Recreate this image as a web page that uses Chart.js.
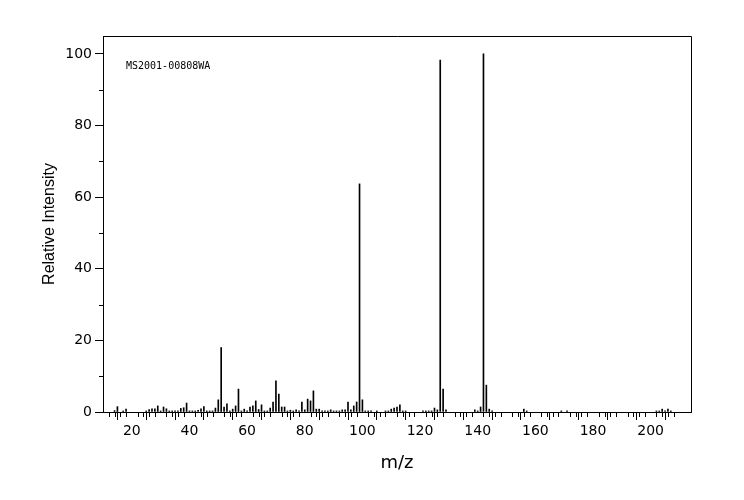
<!DOCTYPE html>
<html>
<head>
<meta charset="utf-8">
<script src="https://cdn.jsdelivr.net/npm/chart.js@4.4.1/dist/chart.umd.min.js"></script>
<style>
  body { margin: 0; background: #fff; }
  #wrap { width: 744px; height: 500px; }
</style>
</head>
<body>
<div id="wrap"><canvas id="ms" width="744" height="500"></canvas></div>
<script>
// mass spectrum, m/z vs relative intensity
const mz = [14, 15, 17, 18, 25, 26, 27, 28, 29, 30, 31, 32, 33, 34, 35, 36, 37, 38, 39, 40,
  41, 42, 43, 44, 45, 46, 47, 48, 49, 50, 51, 52, 53, 54, 55, 56, 57, 58, 59, 60,
  61, 62, 63, 64, 65, 66, 67, 68, 69, 70, 71, 72, 73, 74, 75, 76, 77, 78, 79, 80,
  81, 82, 83, 84, 85, 86, 87, 88, 89, 90, 91, 92, 93, 94, 95, 96, 97, 98, 99, 100,
  101, 102, 103, 105, 108, 109, 110, 111, 112, 113, 114, 115, 121, 122, 123, 124, 125, 126, 127, 128,
  129, 139, 140, 141, 142, 143, 144, 145, 156, 157, 169, 171, 202, 203, 204, 205, 206, 207];
const intensity = [0.4, 1.5, 0.3, 0.8, 0.3, 0.7, 0.9, 0.9, 1.7, 0.3, 1.4, 0.9, 0.3, 0.3, 0.3, 0.3, 1.0, 1.2, 2.5, 0.3,
  0.3, 0.3, 0.5, 0.9, 1.5, 0.3, 0.3, 0.3, 1.1, 3.4, 18.0, 1.4, 2.3, 0.3, 0.8, 1.7, 6.4, 0.3, 0.8, 0.3,
  1.4, 1.7, 3.1, 0.7, 2.0, 0.3, 0.3, 1.1, 2.8, 8.7, 5.0, 1.4, 1.4, 0.3, 0.5, 0.3, 0.6, 0.3, 2.8, 0.6,
  3.6, 3.1, 5.9, 0.8, 0.8, 0.3, 0.3, 0.3, 0.6, 0.3, 0.3, 0.3, 0.6, 0.6, 2.8, 0.6, 1.7, 2.8, 63.7, 3.4,
  0.3, 0.3, 0.3, 0.3, 0.3, 0.3, 0.8, 1.1, 1.4, 2.0, 0.3, 0.3, 0.3, 0.3, 0.3, 0.3, 1.1, 0.6, 98.3, 6.4,
  0.6, 0.6, 0.3, 1.4, 100, 7.5, 0.8, 0.3, 0.8, 0.3, 0.3, 0.3, 0.3, 0.3, 0.8, 0.3, 0.8, 0.3];

const xLabels = [20, 40, 60, 80, 100, 120, 140, 160, 180, 200];
const yLabels = [0, 20, 40, 60, 80, 100];
const specId = 'MS2001-00808WA';

// minor ticks (short ones between the labelled/long ones)
const minorX = [];
for (let v = 12; v <= 208; v += 2) if (v % 10 !== 0) minorX.push(v);
const minorY = [10, 30, 50, 70, 90];

const frame = {
  id: 'frame',
  afterDraw(chart) {
    const { ctx, chartArea: a, scales: { x, y } } = chart;
    ctx.save();
    ctx.strokeStyle = '#000';
    ctx.lineWidth = 1;
    ctx.beginPath();
    ctx.moveTo(a.left, Math.round(a.top) + 0.5);
    ctx.lineTo(Math.round(a.right) + 0.5, Math.round(a.top) + 0.5);
    ctx.lineTo(Math.round(a.right) + 0.5, a.bottom);
    minorX.forEach(v => {
      const px = Math.round(x.getPixelForValue(v)) + 0.5;
      ctx.moveTo(px, a.bottom);
      ctx.lineTo(px, a.bottom + 5);
    });
    minorY.forEach(v => {
      const py = Math.round(y.getPixelForValue(v)) + 0.5;
      ctx.moveTo(a.left - 4, py);
      ctx.lineTo(a.left, py);
    });
    ctx.stroke();
    ctx.fillStyle = '#000';
    ctx.font = '10px "DejaVu Sans Mono"';
    ctx.textBaseline = 'middle';
    ctx.fillText(specId, a.left + 23, a.top + 30);
    ctx.restore();
  }
};

new Chart(document.getElementById('ms'), {
  type: 'bar',
  data: {
    datasets: [{
      data: mz.map((m, i) => ({ x: m, y: intensity[i] })),
      backgroundColor: '#000',
      borderWidth: 0,
      barThickness: 1
    }]
  },
  options: {
    responsive: false,
    animation: false,
    layout: { padding: { top: 36, right: 53, left: 0, bottom: 0 } },
    plugins: { legend: { display: false }, tooltip: { enabled: false } },
    scales: {
      x: {
        type: 'linear',
        min: 10,
        max: 214,
        offset: false,
        afterFit: s => { s.height = 88; },
        grid: { drawOnChartArea: false, drawTicks: true, tickLength: 8, color: '#000' },
        border: { color: '#000', width: 1 },
        ticks: {
          stepSize: 10,
          includeBounds: false,
          autoSkip: false,
          maxRotation: 0,
          padding: 3,
          color: '#000',
          font: { family: 'DejaVu Sans', size: 14 },
          callback: v => xLabels.includes(v) ? String(v) : ''
        },
        title: {
          display: true,
          text: 'm/z',
          color: '#000',
          font: { family: 'DejaVu Sans', size: 18 },
          padding: { top: 0, bottom: 26 }
        }
      },
      y: {
        min: 0,
        max: 105,
        afterFit: s => { s.width = 103; },
        grid: { drawOnChartArea: false, drawTicks: true, tickLength: 8, color: '#000' },
        border: { color: '#000', width: 1 },
        ticks: {
          stepSize: 20,
          includeBounds: false,
          padding: 3,
          color: '#000',
          font: { family: 'DejaVu Sans', size: 14 },
          callback: v => yLabels.includes(v) ? String(v) : ''
        },
        title: {
          display: true,
          text: 'Relative Intensity',
          color: '#000',
          font: { family: 'Liberation Sans', size: 16 },
          padding: { top: 40, bottom: 0 }
        }
      }
    }
  },
  plugins: [frame]
});
</script>
</body>
</html>
